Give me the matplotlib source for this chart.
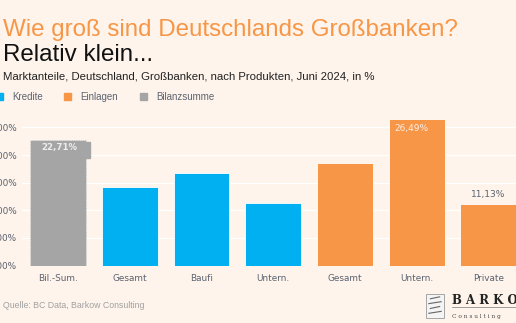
import matplotlib.pyplot as plt
from matplotlib.patches import Rectangle
from matplotlib.ticker import FuncFormatter

# Market shares of the big banks by product, June 2024 (%)
categories = ["Bil.-Sum.", "Gesamt", "Baufi", "Untern.", "Gesamt", "Untern.", "Private"]
shares = [22.71, 14.2, 16.7, 11.3, 18.6, 26.49, 11.13]
groups = ["Bilanzsumme", "Kredite", "Kredite", "Kredite", "Einlagen", "Einlagen", "Einlagen"]
legend_order = ["Kredite", "Einlagen", "Bilanzsumme"]
labelled = {0: "22,71%", 5: "26,49%", 6: "11,13%"}

colors = {"Kredite": "#00B0F0", "Einlagen": "#F79646", "Bilanzsumme": "#A5A5A5"}
bg = "#FEF4EB"
text_gray = "#5A6270"

fig = plt.figure(figsize=(5.16, 3.23), dpi=100, facecolor=bg)
plt.rcParams["font.family"] = ["Liberation Sans", "DejaVu Sans"]

# Titles
fig.text(0.006, 0.89, "Wie groß sind Deutschlands Großbanken?", color="#F79646", fontsize=17.4)
fig.text(0.006, 0.812, "Relativ klein...", color="#111111", fontsize=17.4)
fig.text(0.006, 0.755, "Marktanteile, Deutschland, Großbanken, nach Produkten, Juni 2024, in %",
         color="#222222", fontsize=8.2)

# Legend row
legend_x = [-0.008, 0.124, 0.271]
for x, name in zip(legend_x, legend_order):
    fig.patches.append(Rectangle((x, 0.690), 0.014, 0.022, transform=fig.transFigure,
                                 color=colors[name], figure=fig))
    fig.text(x + 0.031, 0.700, name, color=text_gray, fontsize=7, va="center")

ax = fig.add_axes([0.043, 0.178, 0.973, 0.455])
ax.set_facecolor(bg)
xs = range(len(categories))
bars = ax.bar(xs, shares, width=0.78, color=[colors[g] for g in groups],
              edgecolor="#FFFFFF", linewidth=0.6, zorder=3)
bars[0].set_linestyle(":")
bars[0].set_edgecolor("#EEEEEE")

for i, txt in labelled.items():
    b = bars[i]
    if i == 6:
        ax.text(b.get_x() + b.get_width() / 2, shares[i] + 0.9, txt, ha="center", va="bottom",
                color=text_gray, fontsize=6.5, family="DejaVu Sans", zorder=4)
    elif i == 0:
        ax.text(b.get_x() + b.get_width() - 0.12, shares[i] - 0.6, txt, ha="right", va="top",
                color="#EEEEEE", fontsize=6.2, family="DejaVu Sans", fontweight="bold", zorder=4)
        ax.add_patch(Rectangle((b.get_x() + b.get_width(), shares[i] - 3.3), 0.06, 3.0,
                               color="#A5A5A5", zorder=3))
    else:
        ax.text(b.get_x() + 0.08, shares[i] - 0.9, txt, ha="left", va="top",
                color="#F7F0EA", fontsize=6.5, family="DejaVu Sans", zorder=4)

ax.set_xlim(-0.5, 6.5)
ax.set_ylim(0, 26.6)
ax.set_yticks([0, 5, 10, 15, 20, 25])
ax.yaxis.set_major_formatter(FuncFormatter(lambda v, p: f"{v:.2f}%".replace(".", ",")))
ax.set_xticks(list(xs))
ax.set_xticklabels(categories)
ax.tick_params(length=0, labelsize=6.4, labelcolor=text_gray)
ax.tick_params(axis="y", pad=4)
ax.tick_params(axis="x", pad=6)
for lab in ax.get_xticklabels() + ax.get_yticklabels():
    lab.set_family("DejaVu Sans")
ax.grid(axis="y", color="#FFFFFF", linewidth=0.9, zorder=0)
for s in ax.spines.values():
    s.set_visible(False)

# Footer: source and logo
fig.text(0.006, 0.045, "Quelle: BC Data, Barkow Consulting", color="#A0A0A0", fontsize=6.3)
fig.patches.append(Rectangle((0.826, 0.016), 0.034, 0.074, transform=fig.transFigure,
                             facecolor="#F4F4F4", edgecolor="#999999", linewidth=0.6, figure=fig))
for k in range(4):
    fig.lines.append(plt.Line2D([0.831 + 0.003 * (k % 2), 0.855 - 0.003 * (k % 2)],
                                [0.03 + 0.015 * k, 0.036 + 0.015 * k],
                                transform=fig.transFigure, color="#666666", linewidth=0.8))
fig.text(0.876, 0.058, "B A R K O W", color="#222222", fontsize=8.5, family="DejaVu Serif",
         fontweight="bold")
fig.lines.append(plt.Line2D([0.876, 1.0], [0.05, 0.05], transform=fig.transFigure,
                            color="#777777", linewidth=0.5))
fig.text(0.876, 0.016, "C o n s u l t i n g", color="#444444", fontsize=4.2, family="DejaVu Serif")

fig.savefig("out.png", dpi=100, facecolor=bg)
